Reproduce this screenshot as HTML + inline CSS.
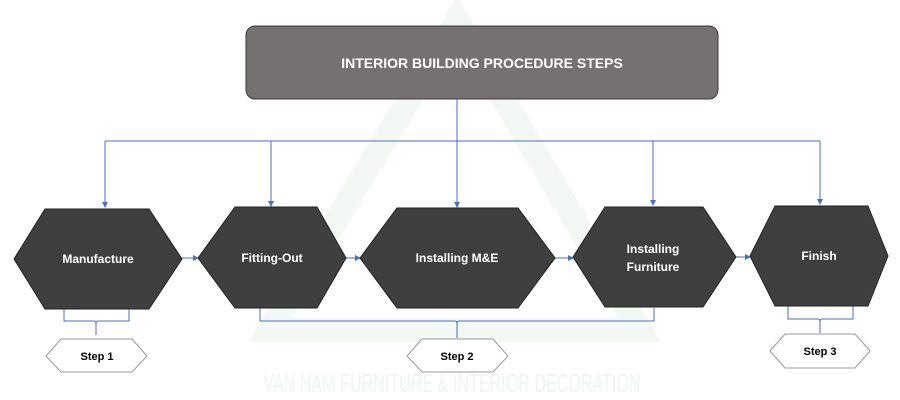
<!DOCTYPE html>
<html><head><meta charset="utf-8"><style>
html,body{margin:0;padding:0;background:#fff;width:900px;height:400px;overflow:hidden}
svg{display:block}
text{font-family:"Liberation Sans",sans-serif;font-weight:bold}
</style></head><body>
<svg width="900" height="400" viewBox="0 0 900 400" xmlns="http://www.w3.org/2000/svg">
<defs>
<marker id="a" markerWidth="6" markerHeight="6" refX="5" refY="3" orient="auto" markerUnits="userSpaceOnUse"><path d="M0,0 L6,3 L0,6 z" fill="#4472c4"/></marker>
</defs>
<!-- watermark -->
<polygon points="457,20 640,330 270,330" fill="none" stroke="#f3f8f4" stroke-width="24"/>
<text x="0" y="0" text-anchor="middle" font-size="26" fill="#eef5f0" style="font-weight:normal" transform="translate(452,392) scale(0.62,1)">VAN NAM FURNITURE &amp; INTERIOR DECORATION</text>
<!-- title -->
<rect x="246" y="26" width="472" height="73" rx="9" fill="#767171" stroke="#3a3a3a" stroke-width="1"/>
<text x="482" y="68" text-anchor="middle" font-size="14" fill="#fff">INTERIOR BUILDING PROCEDURE STEPS</text>
<!-- connectors -->
<g stroke="#4472c4" stroke-width="1" fill="none">
<line x1="457" y1="99" x2="457" y2="207" marker-end="url(#a)"/>
<line x1="105" y1="141" x2="820" y2="141"/>
<line x1="105" y1="141" x2="105" y2="207" marker-end="url(#a)"/>
<line x1="271" y1="141" x2="271" y2="206" marker-end="url(#a)"/>
<line x1="653" y1="141" x2="653" y2="205" marker-end="url(#a)"/>
<line x1="820" y1="141" x2="820" y2="204" marker-end="url(#a)"/>
<line x1="182" y1="258" x2="198" y2="258" marker-end="url(#a)"/>
<line x1="346" y1="258" x2="360" y2="258" marker-end="url(#a)"/>
<line x1="555" y1="258" x2="573" y2="258" marker-end="url(#a)"/>
<line x1="736" y1="257" x2="750" y2="257" marker-end="url(#a)"/>
<path d="M64,309 V321 H94 Q96,321 96,324 V335 M96,324 Q96,321 98,321 H129 V309"/>
<path d="M260,308 V321 H455 Q457,321 457,324 V338 M457,324 Q457,321 459,321 H654 V308"/>
<path d="M788,306 V319 H818 Q820,319 820,322 V333 M820,322 Q820,319 822,319 H853 V306"/>
</g>
<!-- hexagons -->
<g fill="#3f3f3f" stroke="#222" stroke-width="1">
<polygon points="14,259 45,209 149,209 182,259 149,309 45,309"/>
<polygon points="198,258 235,207 317,207 346,258 317,308 235,308"/>
<polygon points="360,258 397,208 518,208 555,258 518,308 397,308"/>
<polygon points="573,257 605,207 703,207 736,257 703,307 605,307"/>
<polygon points="750,256 775,206 868,206 888,256 868,306 775,306"/>
</g>
<g fill="#fff" font-size="12" text-anchor="middle">
<text x="98" y="263">Manufacture</text>
<text x="272" y="262">Fitting-Out</text>
<text x="457" y="262">Installing M&amp;E</text>
<text x="653" y="253">Installing</text>
<text x="653" y="271">Furniture</text>
<text x="819" y="260">Finish</text>
</g>
<!-- step tags -->
<g fill="#fff" stroke="#999" stroke-width="1">
<polygon points="46,356 61,339 132,339 147,356 132,372 61,372"/>
<polygon points="407,356 422,339 493,339 508,356 493,372 422,372"/>
<polygon points="770,351 785,334 855,334 870,351 855,368 785,368"/>
</g>
<g fill="#000" font-size="11" text-anchor="middle">
<text x="97" y="360">Step 1</text>
<text x="457" y="360">Step 2</text>
<text x="820" y="355">Step 3</text>
</g>
</svg>
</body></html>
